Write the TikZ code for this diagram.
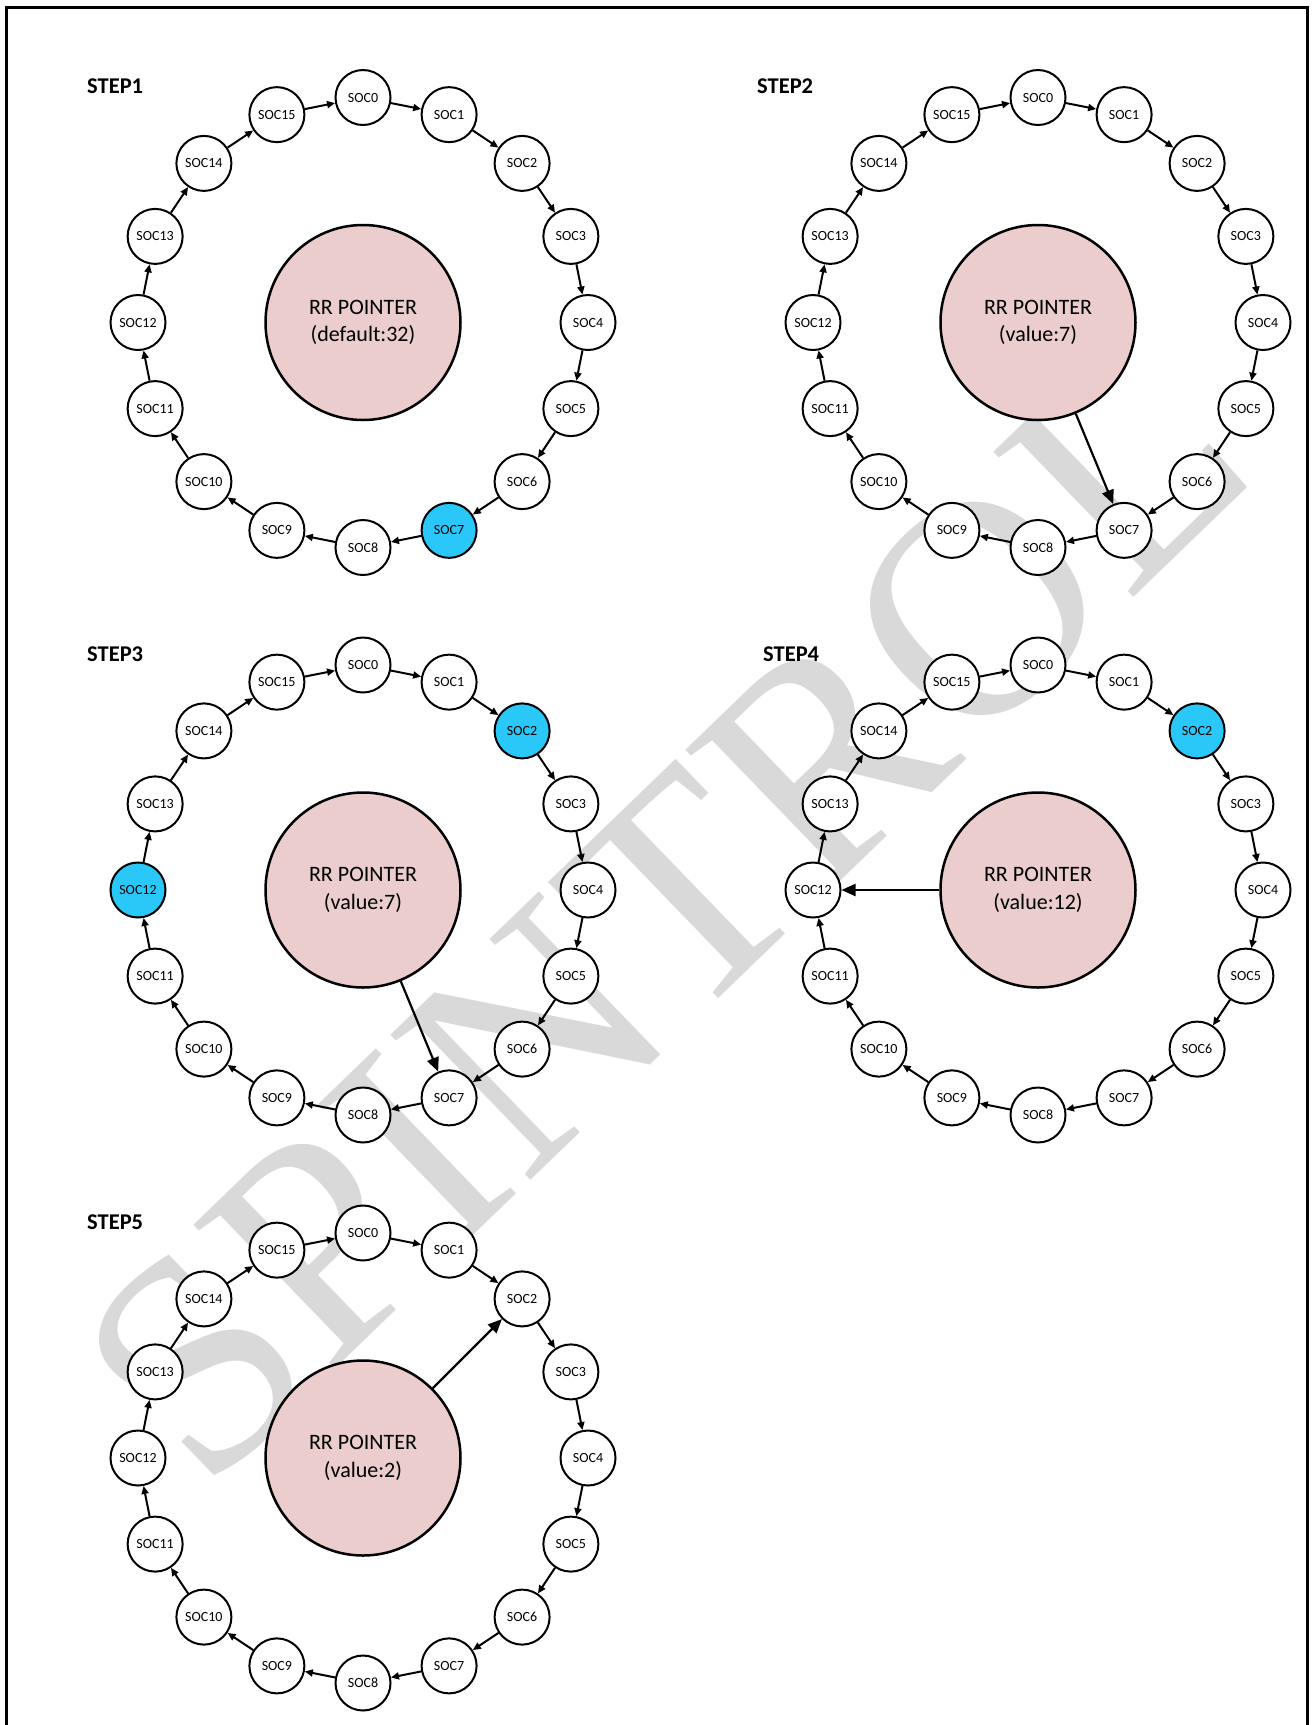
\documentclass[tikz,border=0pt]{standalone}
\usepackage{fontspec}
\setmainfont{Carlito}
\newfontfamily\wmfont{Liberation Serif}
\usetikzlibrary{arrows.meta,calc}
\definecolor{hlcyan}{HTML}{29C8F8}
\definecolor{rrpink}{HTML}{EACDCC}
\definecolor{wmgray}{HTML}{D9D9D9}
\tikzset{
  soc/.style={circle, draw, line width=2pt, minimum size=55pt, inner sep=0pt,
    font=\fontsize{14}{16}\selectfont},
  rrnode/.style={circle, draw, line width=2.5pt, fill=rrpink, minimum size=195pt,
    inner sep=0pt, align=center, font=\fontsize{22}{27.5}\selectfont},
  ringarr/.style={-{Triangle[length=8pt,width=7pt]}, line width=2pt},
  ptrarr/.style={-{Triangle[length=14pt,width=12pt]}, line width=2.2pt},
  steplbl/.style={anchor=west, inner sep=0pt, font=\bfseries\fontsize{22.5}{27}\selectfont},
  frame/.style={line width=3pt}
}
\makeatletter
\newcommand\socring[5]{%
  \coordinate (#1c) at (#2,#3);
  \foreach \i in {0,...,15}{%
    \edef\tmp{\noexpand\in@{,\i,}{,#5,}}\tmp
    \ifin@\def\socfill{hlcyan}\else\def\socfill{white}\fi
    \node[soc, fill=\socfill] (#1-\i) at ($(#1c)+(\i*22.5-90:225)$) {SOC\i};
  }
  \foreach \i in {0,...,15}{%
    \pgfmathtruncatemacro\nxt{mod(\i+1,16)}
    \draw[ringarr] (#1-\i) -- (#1-\nxt);
  }
  \node[rrnode] (#1-rr) at (#1c) {#4};
}
\makeatother
\begin{document}
\begin{tikzpicture}[x=1pt,y=-1pt]
  \useasboundingbox (0,0) rectangle (1312,1725);
  \fill[white] (0,0) rectangle (1312,1725);
  % watermark
  \node[rotate=44, text=wmgray, inner sep=0pt,
        font=\wmfont\fontsize{308}{308}\selectfont] (wm) at (664,912) {SPINTROL};
  % frame
  \draw[frame] (6.5,1725) -- (6.5,7) -- (1307,7) -- (1307,1725);
  % steps
  \node[steplbl] (l1) at (87,86) {STEP1};
  \socring{s1}{363}{322.5}{RR POINTER\\(default:32)}{7}
  \node[steplbl] (l2) at (757,86) {STEP2};
  \socring{s2}{1038}{322.5}{RR POINTER\\(value:7)}{}
  \draw[ptrarr] (s2-rr) -- (s2-7);
  \node[steplbl] (l3) at (87,654) {STEP3};
  \socring{s3}{363}{890}{RR POINTER\\(value:7)}{2,12}
  \draw[ptrarr] (s3-rr) -- (s3-7);
  \node[steplbl] (l4) at (763,654) {STEP4};
  \socring{s4}{1038}{890}{RR POINTER\\(value:12)}{2}
  \draw[ptrarr] (s4-rr) -- (s4-12);
  \node[steplbl] (l5) at (87,1222) {STEP5};
  \socring{s5}{363}{1458}{RR POINTER\\(value:2)}{}
  \draw[ptrarr] (s5-rr) -- (s5-2);
\end{tikzpicture}
\end{document}
